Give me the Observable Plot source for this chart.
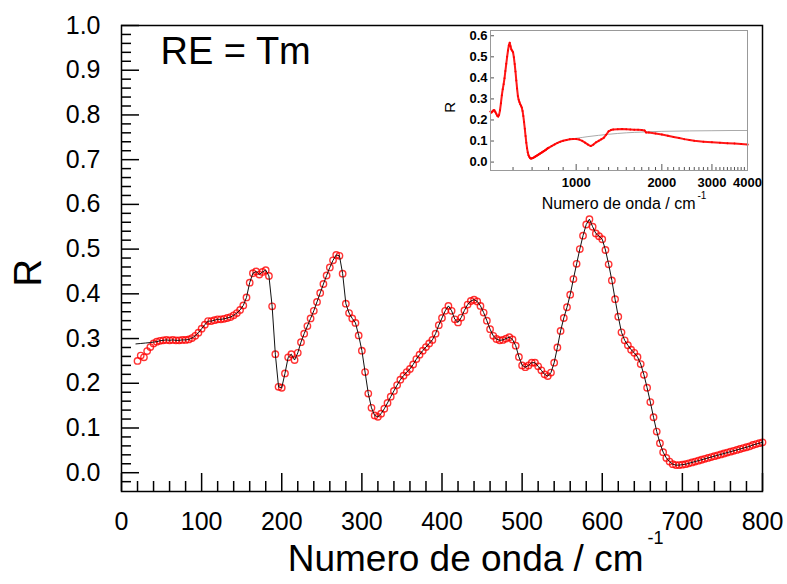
<!DOCTYPE html>
<html>
<head>
<meta charset="utf-8">
<script src="https://cdn.jsdelivr.net/npm/d3@7"></script>
<script src="https://cdn.jsdelivr.net/npm/@observablehq/plot@0.6"></script>
<style>
  html, body { margin: 0; padding: 0; background: #fff; }
  #chart { position: relative; width: 787px; height: 584px; }
  #chart svg { position: absolute; overflow: visible; }
</style>
</head>
<body>
<div id="chart"></div>
<script>
// Far-infrared reflectance spectrum, RE = Tm: measured points and fitted model.
const wavenumber = [
  20, 24, 28, 32, 36, 40, 44, 48, 52, 56, 60, 64,
  68, 72, 76, 80, 84, 88, 92, 96, 100, 104, 108, 112,
  116, 120, 124, 128, 132, 136, 140, 144, 148, 152, 156, 160,
  164, 168, 172, 176, 180, 184, 188, 192, 196, 200, 204, 208,
  212, 216, 220, 224, 228, 232, 236, 240, 244, 248, 252, 256,
  260, 264, 268, 272, 276, 280, 284, 288, 292, 296, 300, 304,
  308, 312, 316, 320, 324, 328, 332, 336, 340, 344, 348, 352,
  356, 360, 364, 368, 372, 376, 380, 384, 388, 392, 396, 400,
  404, 408, 412, 416, 420, 424, 428, 432, 436, 440, 444, 448,
  452, 456, 460, 464, 468, 472, 476, 480, 484, 488, 492, 496,
  500, 504, 508, 512, 516, 520, 524, 528, 532, 536, 540, 544,
  548, 552, 556, 560, 564, 568, 572, 576, 580, 584, 588, 592,
  596, 600, 604, 608, 612, 616, 620, 624, 628, 632, 636, 640,
  644, 648, 652, 656, 660, 664, 668, 672, 676, 680, 684, 688,
  692, 696, 700, 704, 708, 712, 716, 720, 724, 728, 732, 736,
  740, 744, 748, 752, 756, 760, 764, 768, 772, 776, 780, 784,
  788, 792, 796, 800
];
const reflectance = [
  0.250, 0.262, 0.258, 0.272, 0.281, 0.289, 0.293, 0.295, 0.296, 0.297, 0.296, 0.297,
  0.296, 0.296, 0.297, 0.297, 0.298, 0.301, 0.306, 0.313, 0.322, 0.331, 0.339, 0.339,
  0.341, 0.343, 0.343, 0.344, 0.346, 0.348, 0.352, 0.357, 0.364, 0.374, 0.392, 0.425,
  0.446, 0.450, 0.443, 0.449, 0.453, 0.440, 0.372, 0.265, 0.192, 0.190, 0.222, 0.258,
  0.265, 0.252, 0.268, 0.292, 0.311, 0.328, 0.345, 0.362, 0.382, 0.402, 0.422, 0.441,
  0.459, 0.475, 0.487, 0.485, 0.445, 0.378, 0.357, 0.345, 0.335, 0.307, 0.273, 0.225,
  0.177, 0.145, 0.128, 0.125, 0.132, 0.143, 0.156, 0.170, 0.183, 0.196, 0.208, 0.217,
  0.225, 0.232, 0.242, 0.254, 0.264, 0.273, 0.281, 0.289, 0.297, 0.311, 0.330, 0.346,
  0.362, 0.373, 0.362, 0.343, 0.336, 0.347, 0.363, 0.376, 0.384, 0.387, 0.383, 0.373,
  0.358, 0.340, 0.321, 0.306, 0.299, 0.296, 0.297, 0.300, 0.303, 0.298, 0.284, 0.259,
  0.240, 0.236, 0.240, 0.246, 0.246, 0.238, 0.229, 0.220, 0.216, 0.224, 0.246, 0.280,
  0.317, 0.346, 0.370, 0.398, 0.433, 0.467, 0.500, 0.530, 0.555, 0.567, 0.550, 0.535,
  0.529, 0.522, 0.498, 0.466, 0.430, 0.388, 0.349, 0.314, 0.296, 0.285, 0.275, 0.268,
  0.259, 0.243, 0.219, 0.190, 0.158, 0.124, 0.092, 0.066, 0.046, 0.033, 0.025, 0.019,
  0.017, 0.017, 0.018, 0.019, 0.021, 0.023, 0.025, 0.027, 0.029, 0.031, 0.033, 0.035,
  0.037, 0.039, 0.041, 0.043, 0.045, 0.047, 0.049, 0.051, 0.053, 0.055, 0.057, 0.059,
  0.062, 0.064, 0.066, 0.068
];
// Low-frequency start of the fitted curve (below 48 cm-1 it leaves the noisy points)
const fitHeadWavenumber = [18, 24, 30, 36, 40, 44];
const fitHeadR = [0.288, 0.289, 0.290, 0.291, 0.292, 0.293];

// Wide-range spectrum shown in the inset, above 800 cm-1
const wideWavenumber = [
  820, 840, 860, 880, 900, 925, 950, 975, 1000, 1025, 1050, 1075,
  1100, 1125, 1150, 1175, 1200, 1225, 1250, 1275, 1300, 1325, 1350, 1400,
  1450, 1500, 1550, 1600, 1650, 1700, 1740, 1760, 1800, 1900, 2000, 2100,
  2200, 2300, 2400, 2500, 2600, 2800, 3000, 3200, 3400, 3600, 3800, 4000
];
const wideR = [
  0.076, 0.084, 0.091, 0.097, 0.101, 0.105, 0.108, 0.110, 0.110, 0.107, 0.101, 0.092,
  0.083, 0.076, 0.083, 0.094, 0.101, 0.108, 0.115, 0.130, 0.146, 0.152, 0.155, 0.156,
  0.157, 0.156, 0.155, 0.154, 0.153, 0.152, 0.150, 0.141, 0.140, 0.136, 0.131, 0.125,
  0.119, 0.114, 0.109, 0.105, 0.101, 0.097, 0.094, 0.092, 0.090, 0.088, 0.086, 0.083
];
const wideModelWavenumber = [820, 860, 900, 950, 1000, 1050, 1100, 1200, 1300, 1400, 1500, 1600, 1800, 2000, 2500, 3000, 3500, 4000];
const wideModelR = [0.078, 0.093, 0.102, 0.109, 0.113, 0.117, 0.121, 0.127, 0.132, 0.136, 0.139, 0.141, 0.144, 0.146, 0.148, 0.149, 0.150, 0.150];

// Tick labels
const xTicks = [0, 100, 200, 300, 400, 500, 600, 700, 800];
const yTicks = [0.0, 0.1, 0.2, 0.3, 0.4, 0.5, 0.6, 0.7, 0.8, 0.9, 1.0];
const insetXTicks = [1000, 2000, 3000, 4000];
const insetYTicks = [0.0, 0.1, 0.2, 0.3, 0.4, 0.5, 0.6];

// Tables built from the arrays above
const measured = wavenumber.map((x, i) => ({x, y: reflectance[i]}));
const fit = fitHeadWavenumber.map((x, i) => ({x, y: fitHeadR[i]}))
  .concat(measured.filter(d => d.x >= 48));
const wide = measured.filter(d => d.x >= 500)
  .concat(wideWavenumber.map((x, i) => ({x, y: wideR[i]})));
const wideModel = fit.filter(d => d.x >= 500)
  .concat(wideModelWavenumber.map((x, i) => ({x, y: wideModelR[i]})));

// Minor tick positions
const xMinor = d3.range(20, 800, 20).filter(v => v % 100 !== 0);
const yMinor = d3.range(-2, 100, 2).filter(v => v % 10 !== 0).map(v => v / 100);
const insetXMinor = d3.range(600, 4000, 100).filter(v => v % 1000 !== 0);

const font = "'Liberation Sans', Arial, Helvetica, sans-serif";
const W = 787, H = 584;
const mL = 121, mR = 25, mT = 25, mB = 93;
const fw = W - mL - mR, fh = H - mT - mB;
const cx = mL + fw / 2;

const main = Plot.plot({
  width: W, height: H,
  marginLeft: mL, marginRight: mR, marginTop: mT, marginBottom: mB,
  style: {fontFamily: font, background: "transparent", color: "black"},
  x: {domain: [0, 800]},
  y: {domain: [-0.042, 1.0]},
  marks: [
    Plot.tickX(xMinor, {insetTop: fh - 10, stroke: "black", strokeWidth: 1.5}),
    Plot.tickX(xTicks, {insetTop: fh - 18, stroke: "black", strokeWidth: 1.5}),
    Plot.tickY(yMinor, {insetRight: fw - 10, stroke: "black", strokeWidth: 1.5}),
    Plot.tickY(yTicks, {insetRight: fw - 18, stroke: "black", strokeWidth: 1.5}),
    Plot.axisX(xTicks, {anchor: "bottom", tickSize: 0, tickPadding: 21, fontSize: 25, label: null, tickFormat: d => String(d)}),
    Plot.axisY(yTicks, {anchor: "left", tickSize: 0, tickPadding: 21, fontSize: 25, label: null, tickFormat: d => d.toFixed(1)}),
    Plot.dot(measured, {x: "x", y: "y", r: 3.2, stroke: "#ff0000", strokeWidth: 1.4, strokeOpacity: 0.8, fill: "none"}),
    Plot.line(fit, {x: "x", y: "y", stroke: "#111", strokeWidth: 1}),
    Plot.frame({stroke: "black", strokeWidth: 1.5}),
    Plot.text(["RE = Tm"], {frameAnchor: "top-left", dx: 39, dy: 26, textAnchor: "start", lineAnchor: "middle", fontSize: 38}),
    Plot.text([{label: "R", y: 0.447}], {text: "label", y: "y", frameAnchor: "left", dx: -93, rotate: -90, textAnchor: "middle", lineAnchor: "middle", fontSize: 38}),
    Plot.text(["Numero de onda / cm"], {frameAnchor: "bottom", dx: 643 - cx, dy: 68, textAnchor: "end", lineAnchor: "middle", fontSize: 37}),
    Plot.text(["-1"], {frameAnchor: "bottom", dx: 647 - cx, dy: 47, textAnchor: "start", lineAnchor: "middle", fontSize: 18})
  ]
});

// Inset: wide-range spectrum on a logarithmic wavenumber axis
const iW = 340, iH = 198, iL = 50, iR = 33, iT = 4, iB = 54;
const ifw = iW - iL - iR, ifh = iH - iT - iB;
const icx = iL + ifw / 2;
const inset = Plot.plot({
  width: iW, height: iH,
  marginLeft: iL, marginRight: iR, marginTop: iT, marginBottom: iB,
  style: {fontFamily: font, background: "transparent", color: "black"},
  x: {type: "log", domain: [500, 4000], axis: null},
  y: {domain: [-0.04, 0.625]},
  marks: [
    Plot.tickX(insetXMinor, {insetTop: ifh - 3, stroke: "#555"}),
    Plot.tickX(insetXTicks, {insetTop: ifh - 6, stroke: "#555"}),
    Plot.tickY(insetYTicks, {insetRight: ifw - 4, stroke: "#555"}),
    Plot.text(insetXTicks, {x: d => d, frameAnchor: "bottom", dy: 12, lineAnchor: "middle", fontSize: 13, fontWeight: "bold", text: d => String(d)}),
    Plot.axisY(insetYTicks, {anchor: "left", tickSize: 0, tickPadding: 3, fontSize: 13, fontWeight: "bold", label: null, tickFormat: d => d.toFixed(1)}),
    Plot.line(wideModel, {x: "x", y: "y", stroke: "#aaa", strokeWidth: 1}),
    Plot.line(wide, {x: "x", y: "y", stroke: "#ff1a1a", strokeWidth: 2}),
    Plot.dot(wide, {x: "x", y: "y", r: 1, fill: "#ff0000", stroke: "none"}),
    Plot.frame({stroke: "#999", strokeWidth: 1}),
    Plot.text([{label: "R", y: 0.26}], {text: "label", y: "y", frameAnchor: "left", dx: -40, rotate: -90, textAnchor: "middle", lineAnchor: "middle", fontSize: 15}),
    Plot.text(["Numero de onda / cm"], {frameAnchor: "bottom", dx: (695 - 440) - icx, dy: 33, textAnchor: "end", lineAnchor: "middle", fontSize: 16}),
    Plot.text(["-1"], {frameAnchor: "bottom", dx: (697 - 440) - icx, dy: 25, textAnchor: "start", lineAnchor: "middle", fontSize: 10})
  ]
});

const chart = document.getElementById("chart");
main.style.left = "0px"; main.style.top = "0px";
inset.style.left = "440px"; inset.style.top = "26px";
chart.appendChild(main);
chart.appendChild(inset);
</script>
</body>
</html>
